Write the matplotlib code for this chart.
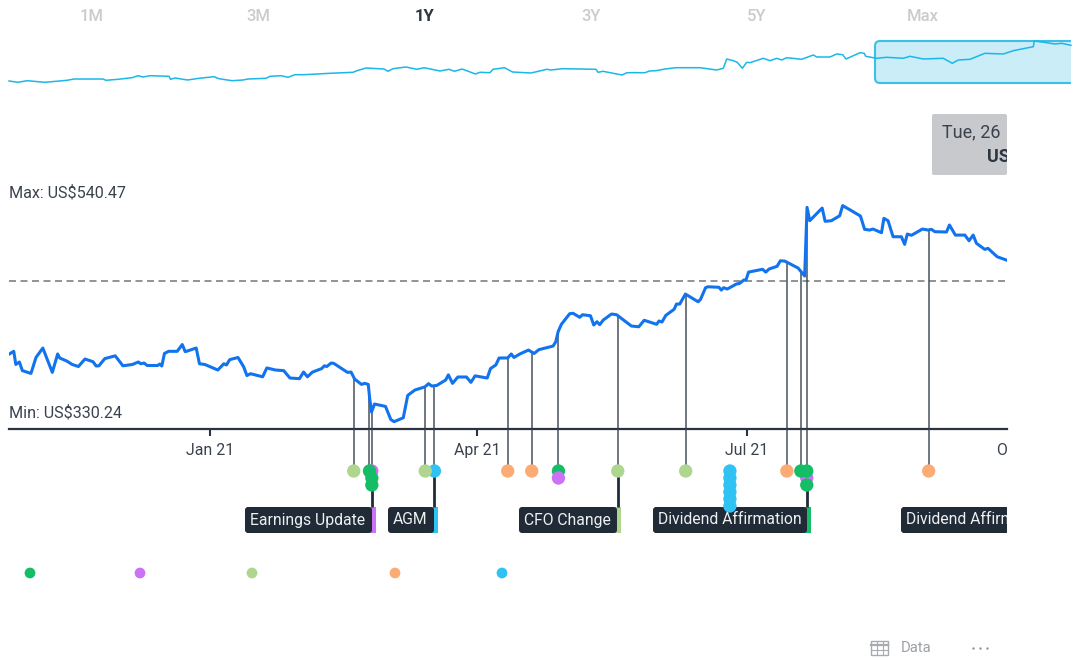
import numpy as np
import matplotlib
matplotlib.use('Agg')
from matplotlib import pyplot as plt
from matplotlib.patches import FancyBboxPatch, Rectangle
from matplotlib.transforms import Bbox, blended_transform_factory

# main series, days from 1 Jan 2021 and share price
days = [-67.6,-66.1,-65.4,-64.2,-63.2,-60.3,-58.6,-56.3,-53.1,-51.3,-50.6,-48.2,-46.4,-44.3,-42.1,-39.4,-38.3,-37.4,-35.4,-31.9,
	-29.3,-26.1,-24.1,-23.3,-22.2,-21.1,-17.6,-16.9,-16.2,-15.3,-13.9,-11.0,-9.3,-8.3,-4.6,-3.5,-1.7,2.7,4.7,5.6,
	6.7,9.5,11.4,12.5,13.7,17.8,19.2,22.1,24.9,27.0,30.2,31.6,32.9,34.6,37.7,38.6,39.4,40.9,41.8,46.4,
	47.6,48.8,51.1,52.2,53.4,53.9,54.5,55.5,59.2,61.0,62.1,65.2,66.7,69.1,72.5,73.7,74.8,76.5,79.5,80.4,
	81.8,83.6,86.5,88.0,89.4,93.5,94.6,96.4,97.5,100.4,101.6,102.5,104.5,107.4,109.3,110.9,115.7,116.6,117.4,118.5,
	121.3,122.4,124.7,125.6,128.3,129.4,130.5,131.4,132.6,135.4,137.1,142.1,144.6,146.4,150.6,151.4,152.4,153.7,156.5,157.3,
	158.4,160.3,164.6,165.4,167.1,167.9,171.6,172.4,173.2,174.4,177.5,178.6,180.0,180.7,181.6,186.3,187.4,188.5,191.2,192.3,
	193.8,198.3,200.5,201.3,202.2,206.4,207.4,209.5,212.3,213.3,216.3,219.3,220.7,222.4,223.5,226.4,227.2,228.6,230.3,233.1,
	234.2,235.1,236.5,240.2,242.1,243.2,244.4,248.3,249.3,251.3,254.5,255.9,257.3,258.4,261.2,262.3,265.4,268.5]
prices = [396.1,398.7,385.9,388.3,379.9,377.2,392.7,401.9,378.2,396.1,392.2,389.2,385.9,383.9,391.2,388.6,384.4,384.6,391.6,394.3,
	384.6,385.9,388.3,386.6,387.3,384.9,384.9,386.3,384.4,396.6,398.7,398.7,405.3,398.3,401.9,386.6,385.9,380.5,386.6,385.4,
	390.6,392.7,383.6,375.1,376.9,373.9,382.5,380.5,379.9,372.7,372.1,378.5,373.9,378.5,381.9,384.6,383.9,387.3,386.9,378.2,
	378.5,371.7,366.5,367.5,366.5,352.3,339.6,347.4,345.1,332.3,330.24,334.0,355.8,361.0,364.1,367.2,364.9,365.5,370.8,375.8,
	367.5,373.7,373.7,368.5,374.8,372.7,381.9,385.4,392.2,392.2,396.1,392.7,396.1,399.9,396.6,400.3,403.8,408.0,417.8,425.0,
	435.3,435.7,431.8,434.3,433.3,424.3,427.5,424.6,429.1,435.0,434.3,423.3,422.6,428.9,425.0,428.2,427.2,433.7,439.6,444.7,
	444.7,454.4,446.9,449.3,460.6,461.5,461.0,458.3,460.6,459.3,464.2,464.8,468.1,468.1,475.8,478.5,475.8,478.8,481.4,486.8,
	486.5,479.7,472.0,538.8,525.8,538.1,525.2,525.8,530.6,540.47,535.5,530.3,517.4,516.7,517.7,514.1,528.1,525.8,510.2,510.2,
	502.8,512.8,511.6,517.7,516.7,517.4,515.1,514.8,521.6,511.8,511.8,506.3,511.8,503.8,497.9,498.9,490.7,487.5]
average_price = 467.1

tick_days = [0, 90, 181]
tick_labels = ['Jan 21', 'Apr 21', 'Jul 21']

# navigator line, whole history
nav_bucket = [0,9,18,36,58,65,94,97,109,123,129,134,141,160,161.5,166,178.5,190,205,210,223,234,239,257,261,272,279,286,295,321,
	344,348,357,375,379,384,397,408,415,431,440,445.5,453,466.5,471,481,484,495.5,503.5,522,538,542,553.5,587,589,594,613,618,636,640.5,
	647,656,667,691,707.7,714.3,717.7,724.3,728.3,733.3,737.7,741,754.3,761,767.7,772.7,777.7,792.7,804.3,807.7,821,827.7,833.7,837,851,855.3,856.7,867.7,877.7,894.3,
	901,914.3,934.3,943.3,949.3,961,976,994.3,1004.3,1024.3,1025.3,1037.7,1046,1052.7,1062]
nav_price = [140,127,143,127,147,160,160,147,157,173,193,180,193,187,157,170,150,167,183,163,143,150,160,167,187,193,177,203,203,217,
	227,243,270,260,237,263,280,257,273,240,257,237,260,210,227,223,257,273,230,220,257,250,263,257,227,237,200,223,223,240,
	243,260,273,273,250,267,360,343,327,267,327,323,367,343,367,350,373,357,400,380,380,410,403,360,423,417,387,367,377,367,
	387,360,367,317,350,357,417,410,443,483,540,523,510,517,497]

tabs = ['1M', '3M', '1Y', '3Y', '5Y', 'Max']

# events: day, type, lane below the axis (drawn in this order)
event_days = [48.5, 54.6, 53.8, 54.6, 54.6, 75.7, 72.6, 100.4, 108.5, 117.5, 117.5, 137.5, 160.4,
	175.3, 175.3, 175.3, 175.3, 175.3, 175.3, 194.5, 201.2, 201.2, 199.2, 201.2, 242.3]
event_types = ['mgmt', 'report', 'earn', 'earn', 'earn', 'agm', 'mgmt', 'div', 'div', 'earn', 'report', 'mgmt', 'mgmt',
	'agm', 'agm', 'agm', 'agm', 'agm', 'agm', 'div', 'report', 'earn', 'earn', 'earn', 'div']
event_lanes = [0, 0, 0, 1, 2, 0, 0, 0, 0, 0, 1, 0, 0,
	0, 1, 2, 3, 4, 5, 0, 1, 0, 0, 2, 0]
stem_days = [48.5, 53.8, 54.6, 72.6, 75.7, 100.4, 108.5, 117.5, 137.5, 160.4, 194.5, 199.2, 201.2, 242.3]
label_stem_days = [54.6, 75.7, 137.5, 201.2]
label_stem_lanes = [2, 0, 0, 2]

colors = {'earn': '#15bd67', 'report': '#cb72f5', 'mgmt': '#aed68e', 'div': '#fdab75', 'agm': '#2fc2f3'}
DARK = '#202b37'
TEXT = '#3a424e'

W, H = 1080, 660
plt.rcParams['font.family'] = ['Roboto', 'DejaVu Sans']

def px_axes(fig, left, top, right, bottom, z):
	a = fig.add_axes([left/W, 1-bottom/H, (right-left)/W, (bottom-top)/H], zorder=z)
	a.patch.set_alpha(0)
	return a

def clip_text(t, right=1007):
	# chart is cut off at the right edge of the plot area
	t.set_clip_path(None)
	t.set_clip_on(True)
	t.set_clip_box(Bbox([[0, 0], [right, H]]))

fig = plt.figure(figsize=(W/100, H/100), dpi=100, facecolor='white')

# page axes in pixels for everything that is not data
page = px_axes(fig, 0, 0, W, H, 0)
page.set_xlim(0, W)
page.set_ylim(H, 0)
page.axis('off')

for i, tab in enumerate(tabs):
	on = tab == '1Y'
	page.text(92+i*166.2, 16.5, tab, ha='center', va='center', fontsize=12, fontweight='bold' if on else 'medium',
		color='#2d3540' if on else '#c9cbce')

# selected range on the navigator
sel = FancyBboxPatch((875, 41), 220, 42, boxstyle='round,pad=0,rounding_size=5', fc='#caedf8', ec='#3cc0e8', lw=1.5)
page.add_patch(sel)
sel.set_clip_box(Bbox([[0, 0], [1071, H]]))

# tooltip, cut off on the right
page.add_patch(FancyBboxPatch((932, 114), 75, 61, boxstyle='round,pad=0,rounding_size=2', fc='#c8c9cd', ec='none'))
page.text(942, 132.5, 'Tue, 26', ha='left', va='center', fontsize=13, color=TEXT)
clip_text(page.text(987, 157.5, 'US', ha='left', va='center', fontsize=13, fontweight='bold', color='#2d3540'))

page.text(9, 193, 'Max: US$540.47', ha='left', va='center', fontsize=11.6, color=TEXT)
page.text(9, 413, 'Min: US$330.24', ha='left', va='center', fontsize=11.6, color=TEXT)

# event label boxes
boxes = [(245, 372, 'Earnings Update', colors['report']), (388, 434, 'AGM', colors['agm']),
	(519, 617, 'CFO Change', colors['mgmt']), (653, 807, 'Dividend Affirmation', colors['earn']),
	(901, 1040, 'Dividend Affirmation', None)]
for left, right, name, strip in boxes:
	if strip:
		page.add_patch(Rectangle((right-2, 507), 6, 26, fc=strip, ec='none'))
	b = FancyBboxPatch((left, 507), right-left, 26, boxstyle='round,pad=0,rounding_size=3', fc=DARK, ec='none')
	page.add_patch(b)
	b.set_clip_box(Bbox([[0, 0], [1007, H]]))
	clip_text(page.text(left+5, 524.5, name, ha='left', va='baseline', fontsize=11.35, color='#eef0f2'))

# legend dots, labels are blank in the picture
page.scatter([30, 140, 252, 395, 502], [573]*5, s=60, linewidths=0,
	c=[colors[k] for k in ['earn', 'report', 'mgmt', 'div', 'agm']])

# data icon and menu
grey = '#a7aaae'
page.add_patch(Rectangle((871, 640.5), 17, 14, fc='none', ec=grey, lw=1))
page.plot([871, 888], [644.5, 644.5], color=grey, lw=1.6)
page.plot([871, 888], [650, 650], color=grey, lw=0.8)
page.plot([877, 877], [640.5, 654.5], color=grey, lw=0.8)
page.plot([882.5, 882.5], [640.5, 654.5], color=grey, lw=0.8)
page.text(901, 647.5, 'Data', ha='left', va='center', fontsize=10.7, color='#9da1a6')
page.scatter([973, 980, 987], [648]*3, s=3, color='#8f9398', linewidths=0)

# navigator
nav = px_axes(fig, 9, 40, 1071, 84, 1)
nav.set_xlim(0, 1062)
nav.set_ylim(110, 550)
nav.axis('off')
nav.plot(nav_bucket, nav_price, color='#1ab8e8', lw=1.1, clip_on=False)

# main chart
ax = px_axes(fig, 9, 176, 1007, 429, 2)
ax.set_xlim(-67.7, 268.7)
ax.set_ylim(323.1, 569.3)
for s in ['top', 'left', 'right']:
	ax.spines[s].set_visible(False)
ax.spines['bottom'].set_color('#2a3340')
ax.spines['bottom'].set_linewidth(1.6)
ax.set_yticks([])
ax.set_xticks(tick_days)
ax.set_xticklabels(tick_labels, fontsize=11.4, color=TEXT)
ax.tick_params(axis='x', length=5, width=1.5, color='#2a3340', pad=5)
ax.axhline(average_price, color='#7d8185', lw=1.2, dashes=(4.2, 2.7))
stem_tops = np.interp(stem_days, days, prices)
ax.vlines(stem_days, ax.get_ylim()[0], stem_tops, color='#3b4450', lw=1.2, alpha=0.85)
ax.plot(days, prices, color='#1273ee', lw=2.2, solid_joinstyle='round')
trans = blended_transform_factory(ax.transData, ax.transAxes)
clip_text(ax.text(273, -0.055, 'Oct 21', transform=trans, ha='center', va='top', fontsize=11.4, color=TEXT))

# event lanes below the axis
ev = px_axes(fig, 9, 429, 1007, 540, 3)
ev.set_xlim(ax.get_xlim())
ev.set_ylim(9.857, -6)
ev.axis('off')
ev.vlines(stem_days, -6, 0, color='#3b4450', lw=1.2, alpha=0.85)
ev.vlines(label_stem_days, label_stem_lanes, 5.2, color=DARK, lw=2)
ev.scatter(event_days, event_lanes, s=92, c=[colors[k] for k in event_types], linewidths=0, zorder=3, clip_on=False)

fig.savefig('out.png', dpi=100)
